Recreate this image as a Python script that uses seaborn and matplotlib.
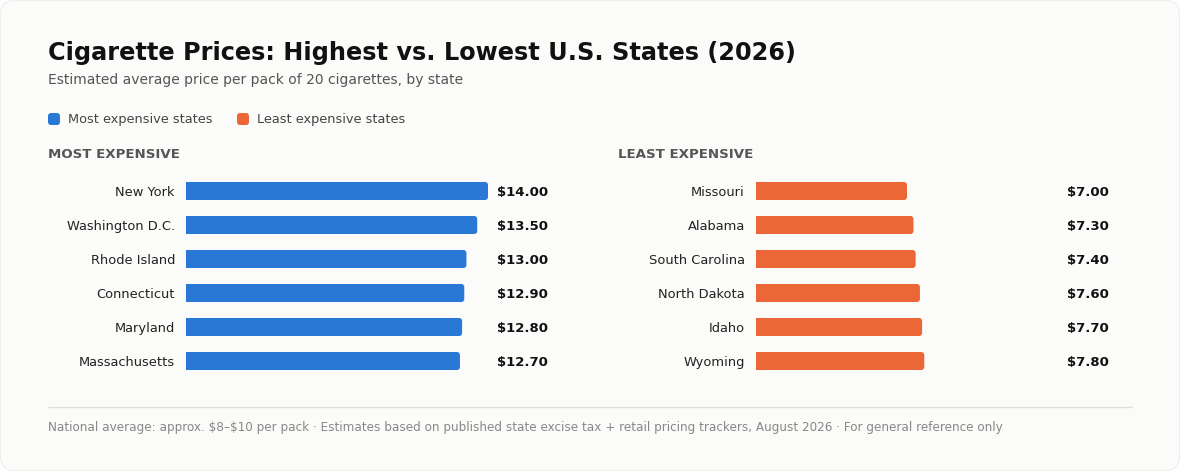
import matplotlib
matplotlib.use("Agg")
import matplotlib.pyplot as plt
import matplotlib.transforms as mtransforms
from matplotlib.patches import FancyBboxPatch
import seaborn as sns
import pandas as pd

# ---- data ----
most_states = ["New York", "Washington D.C.", "Rhode Island", "Connecticut", "Maryland", "Massachusetts"]
most_prices = [14.00, 13.50, 13.00, 12.90, 12.80, 12.70]
least_states = ["Missouri", "Alabama", "South Carolina", "North Dakota", "Idaho", "Wyoming"]
least_prices = [7.00, 7.30, 7.40, 7.60, 7.70, 7.80]
legend_labels = ["Most expensive states", "Least expensive states"]
panel_titles = ["MOST EXPENSIVE", "LEAST EXPENSIVE"]
title = "Cigarette Prices: Highest vs. Lowest U.S. States (2026)"
subtitle = "Estimated average price per pack of 20 cigarettes, by state"
footer = ("National average: approx. \\$8\u2013\\$10 per pack \u00b7 Estimates based on published state excise tax "
          "+ retail pricing trackers, August 2026 \u00b7 For general reference only")

BLUE = "#2A78D6"
ORANGE = "#EB6836"
BG = "#FBFBF9"

sns.set_theme(style="white")
plt.rcParams["font.family"] = ["DejaVu Sans"]

W, H = 1180, 471
fig = plt.figure(figsize=(W / 100, H / 100), dpi=100, facecolor="white")

# card background
card = FancyBboxPatch((0.5 / W, 0.5 / H), 1 - 1 / W, 1 - 1 / H,
                      boxstyle="round,pad=0,rounding_size=0.012",
                      mutation_aspect=W / H,
                      transform=fig.transFigure, facecolor=BG, edgecolor="#EEEEEC",
                      linewidth=0.8, zorder=-10)
fig.patches.append(card)

def px(x, y):
    return x / W, 1 - y / H

def axes_rect(x0, x1, y0, y1):
    return [x0 / W, 1 - y1 / H, (x1 - x0) / W, (y1 - y0) / H]

# titles
fig.text(*px(48, 53), title, fontsize=17.3, fontweight="bold", color="#111111", va="center", ha="left")
fig.text(*px(48, 80), subtitle, fontsize=10, color="#555555", va="center", ha="left")

# legend
for (lx, tx), lab, col in zip([(48, 68), (237, 257)], legend_labels, [BLUE, ORANGE]):
    sq = FancyBboxPatch(((lx) / W, 1 - 125 / H), 12 / W, 12 / H,
                        boxstyle="round,pad=0,rounding_size=0.0025", mutation_aspect=W / H,
                        transform=fig.transFigure, facecolor=col, edgecolor="none")
    fig.patches.append(sq)
    fig.text(*px(tx, 119.5), lab, fontsize=9.3, color="#444444", va="center", ha="left")

panels = [
    (most_states, most_prices, BLUE, 48, 186, 488, 548),
    (least_states, least_prices, ORANGE, 618, 756, 1058, 1109),
]

for (states, prices, col, hx, ax0, ax1, vx), ptitle in zip(panels, panel_titles):
    fig.text(*px(hx, 155), ptitle, fontsize=9.6, fontweight="bold", color="#555555",
             va="center", ha="left")
    ax = fig.add_axes(axes_rect(ax0, ax1, 174, 378))
    ax.set_facecolor("none")
    df = pd.DataFrame({"state": states, "price": prices})
    sns.barplot(data=df, x="price", y="state", ax=ax, color=col, width=0.53,
                saturation=1, orient="h")
    ax.set_xlim(0, 14)
    ax.set_ylim(len(states) - 0.5, -0.5)
    # rounded bars
    r = 0.14
    aspect = (3 / 34) / r
    for p in list(ax.patches):
        x, y = p.get_x(), p.get_y()
        w, h = p.get_width(), p.get_height()
        rb = FancyBboxPatch((x - r, y), w + r, h,
                            boxstyle=f"round,pad=0,rounding_size={r}",
                            mutation_aspect=aspect, facecolor=col, edgecolor="none",
                            clip_on=True)
        p.remove()
        ax.add_patch(rb)
        rb.set_clip_path(ax.patch)
    ax.set_xlabel("")
    ax.set_ylabel("")
    ax.set_xticks([])
    ax.tick_params(axis="y", length=0, pad=8, labelsize=9.4, labelcolor="#222222")
    for s in ax.spines.values():
        s.set_visible(False)
    trans = mtransforms.blended_transform_factory(fig.transFigure, ax.transData)
    for i, v in enumerate(prices):
        ax.text(vx / W, i + 0.03, f"\\${v:.2f}", transform=trans, ha="right", va="center",
                fontsize=9.5, fontweight="bold", color="#111111")

# footer
fig.add_artist(plt.Line2D([48 / W, 1132 / W], [1 - 406.5 / H] * 2, transform=fig.transFigure,
                          color="#E0E0DE", linewidth=1))
fig.text(*px(48, 428), footer, fontsize=8.65, color="#888888", va="center", ha="left")

fig.savefig("out.png", dpi=100, facecolor=fig.get_facecolor())
